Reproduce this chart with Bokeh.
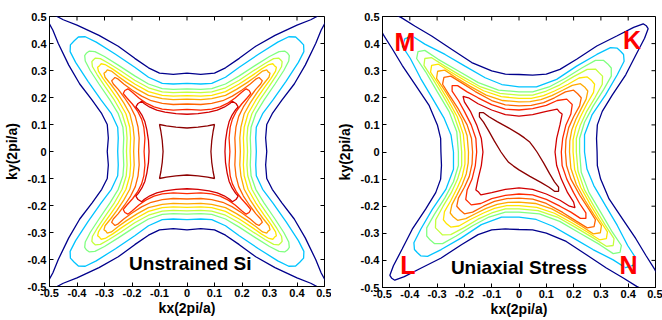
from bokeh.plotting import figure
from bokeh.layouts import row
from bokeh.models import FixedTicker, Label, Range1d
from bokeh.embed import file_html
from bokeh.resources import INLINE

# ---------------- data ----------------
ticks = [-0.5, -0.4, -0.3, -0.2, -0.1, 0.0, 0.1, 0.2, 0.3, 0.4, 0.5]
tick_labels = ["-0.5", "-0.4", "-0.3", "-0.2", "-0.1", "0", "0.1", "0.2", "0.3", "0.4", "0.5"]

level_colors = ["#00008c", "#00c4ff", "#80ff80", "#c4ff3c", "#ffe600",
                "#ffa800", "#ff6400", "#ff2a00", "#d20000", "#8c0000"]

# Unstrained Si: one octant per contour, from the ky axis to the kx=ky diagonal
uns_x0 = [0, 0.05, 0.10, 0.14, 0.19, 0.25, 0.32, 0.40, 0.45, 0.50, 0.53]
uns_y0 = [0.29, 0.286, 0.29, 0.31, 0.345, 0.39, 0.43, 0.468, 0.488, 0.515, 0.53]
uns_x1 = [0, 0.05, 0.09, 0.14, 0.19, 0.26, 0.33, 0.37, 0.395, 0.41]
uns_y1 = [0.252, 0.25, 0.252, 0.275, 0.312, 0.36, 0.405, 0.425, 0.424, 0.41]
uns_x2 = [0, 0.05, 0.09, 0.14, 0.19, 0.25, 0.30, 0.335, 0.355, 0.365]
uns_y2 = [0.232, 0.23, 0.233, 0.25, 0.28, 0.32, 0.352, 0.37, 0.372, 0.365]
uns_x3 = [0, 0.05, 0.09, 0.14, 0.19, 0.24, 0.285, 0.315, 0.333, 0.34]
uns_y3 = [0.22, 0.218, 0.221, 0.236, 0.264, 0.298, 0.327, 0.344, 0.346, 0.34]
uns_x4 = [0, 0.05, 0.09, 0.14, 0.19, 0.235, 0.27, 0.298, 0.312, 0.318]
uns_y4 = [0.207, 0.205, 0.208, 0.222, 0.25, 0.28, 0.305, 0.322, 0.325, 0.318]
uns_x5 = [0, 0.05, 0.09, 0.14, 0.18, 0.22, 0.25, 0.275, 0.29, 0.295]
uns_y5 = [0.194, 0.192, 0.196, 0.208, 0.23, 0.256, 0.278, 0.298, 0.302, 0.295]
uns_x6 = [0, 0.05, 0.09, 0.13, 0.165, 0.2, 0.23, 0.25, 0.262, 0.268]
uns_y6 = [0.176, 0.174, 0.178, 0.188, 0.205, 0.228, 0.25, 0.268, 0.274, 0.268]
uns_x7 = [0, 0.05, 0.09, 0.12, 0.15, 0.175, 0.2, 0.215, 0.226]
uns_y7 = [0.156, 0.153, 0.157, 0.165, 0.18, 0.198, 0.22, 0.232, 0.226]
uns_x8 = [0, 0.04, 0.08, 0.11, 0.135, 0.155, 0.165, 0.178]
uns_y8 = [0.138, 0.14, 0.146, 0.153, 0.164, 0.177, 0.186, 0.178]
uns_x9 = [0, 0.04, 0.075, 0.1]
uns_y9 = [0.087, 0.09, 0.095, 0.1]

# Uniaxial stress: one quarter per contour, from the K diagonal (kx=ky) to the M diagonal (kx=-ky)
str_x0 = [0.466, 0.455, 0.42, 0.358, 0.285, 0.211, 0.15, 0.10, 0.05, 0.0, -0.05, -0.10, -0.173, -0.247, -0.32, -0.382, -0.431, -0.48, -0.525]
str_y0 = [0.466, 0.473, 0.46, 0.428, 0.391, 0.342, 0.305, 0.287, 0.284, 0.286, 0.287, 0.299, 0.33, 0.379, 0.428, 0.465, 0.496, 0.52, 0.525]
str_x1 = [0.372, 0.36, 0.335, 0.285, 0.211, 0.138, 0.064, 0.0, -0.063, -0.124, -0.198, -0.271, -0.345, -0.39, -0.418]
str_y1 = [0.372, 0.383, 0.385, 0.36, 0.317, 0.268, 0.24, 0.24, 0.249, 0.274, 0.317, 0.36, 0.398, 0.427, 0.418]
str_x2 = [0.325, 0.31, 0.28, 0.23, 0.17, 0.11, 0.05, 0.0, -0.075, -0.149, -0.222, -0.296, -0.345, -0.37]
str_y2 = [0.325, 0.338, 0.338, 0.31, 0.272, 0.24, 0.222, 0.222, 0.228, 0.256, 0.299, 0.342, 0.375, 0.37]
str_x3 = [0.293, 0.28, 0.25, 0.20, 0.15, 0.10, 0.05, 0.0, -0.07, -0.14, -0.21, -0.27, -0.32, -0.345]
str_y3 = [0.293, 0.306, 0.305, 0.278, 0.248, 0.225, 0.21, 0.21, 0.216, 0.24, 0.28, 0.316, 0.348, 0.345]
str_x4 = [0.265, 0.25, 0.22, 0.18, 0.13, 0.09, 0.045, 0.0, -0.065, -0.13, -0.195, -0.25, -0.295, -0.32]
str_y4 = [0.265, 0.277, 0.273, 0.25, 0.225, 0.208, 0.198, 0.198, 0.204, 0.226, 0.262, 0.295, 0.324, 0.32]
str_x5 = [0.24, 0.225, 0.195, 0.16, 0.12, 0.08, 0.04, 0.0, -0.06, -0.12, -0.18, -0.23, -0.272, -0.298]
str_y5 = [0.24, 0.252, 0.246, 0.228, 0.208, 0.193, 0.186, 0.185, 0.19, 0.21, 0.243, 0.274, 0.302, 0.298]
str_x6 = [0.215, 0.2, 0.17, 0.13, 0.09, 0.045, 0.0, -0.05, -0.10, -0.16, -0.21, -0.25, -0.275]
str_y6 = [0.215, 0.228, 0.222, 0.2, 0.182, 0.172, 0.17, 0.174, 0.19, 0.223, 0.255, 0.28, 0.275]
str_x7 = [0.185, 0.175, 0.14, 0.10, 0.05, 0.0, -0.05, -0.10, -0.15, -0.19, -0.225, -0.245]
str_y7 = [0.185, 0.195, 0.19, 0.172, 0.16, 0.155, 0.158, 0.175, 0.2, 0.222, 0.245, 0.245]
str_x8 = [0.148, 0.14, 0.1, 0.05, 0.0, -0.05, -0.1, -0.15, -0.185, -0.205]
str_y8 = [0.148, 0.158, 0.15, 0.138, 0.132, 0.138, 0.155, 0.178, 0.2, 0.205]
str_x9 = [0.038, 0.02, 0.0, -0.04, -0.08, -0.11, -0.13, -0.145]
str_y9 = [0.038, 0.052, 0.066, 0.09, 0.112, 0.13, 0.145, 0.145]

uns_x = [uns_x0, uns_x1, uns_x2, uns_x3, uns_x4, uns_x5, uns_x6, uns_x7, uns_x8, uns_x9]
uns_y = [uns_y0, uns_y1, uns_y2, uns_y3, uns_y4, uns_y5, uns_y6, uns_y7, uns_y8, uns_y9]
str_x = [str_x0, str_x1, str_x2, str_x3, str_x4, str_x5, str_x6, str_x7, str_x8, str_x9]
str_y = [str_y0, str_y1, str_y2, str_y3, str_y4, str_y5, str_y6, str_y7, str_y8, str_y9]


# ------------- symmetry completion -------------
def d4_loop(xs, ys):
    oct_ = list(zip(xs, ys))
    q1 = oct_ + [(y, x) for (x, y) in reversed(oct_)][1:]
    q4 = [(x, -y) for (x, y) in reversed(q1)][1:]
    half = q1 + q4
    left = [(-x, y) for (x, y) in reversed(half)][1:]
    full = half + left
    return [p[0] for p in full], [p[1] for p in full]


def c2v_loop(xs, ys):
    a = list(zip(xs, ys))
    b = [(-y, -x) for (x, y) in reversed(a)][1:]
    ab = a + b
    c = [(-x, -y) for (x, y) in ab][1:]
    full = ab + c
    return [p[0] for p in full], [p[1] for p in full]


FONT = "Liberation Sans"


def make_fig(left_border, frame_w, frame_h, top_border, right_border, bottom_border):
    p = figure(output_backend="svg", toolbar_location=None,
               x_range=Range1d(-0.5, 0.5), y_range=Range1d(-0.5, 0.5),
               frame_width=frame_w, frame_height=frame_h,
               min_border_left=left_border, min_border_right=right_border,
               min_border_top=top_border, min_border_bottom=bottom_border)
    p.xgrid.visible = False
    p.ygrid.visible = False
    p.outline_line_color = "black"
    p.outline_line_width = 1
    p.background_fill_color = "white"
    p.border_fill_color = "white"
    overrides = dict(zip(ticks, tick_labels))
    for ax in (p.xaxis[0], p.yaxis[0]):
        ax.ticker = FixedTicker(ticks=ticks)
        ax.major_label_overrides = overrides
        ax.major_tick_in = 4
        ax.major_tick_out = 0
        ax.minor_tick_line_color = None
        ax.axis_line_color = "black"
        ax.major_tick_line_color = "black"
        ax.major_label_text_font = FONT
        ax.major_label_text_font_style = "bold"
        ax.major_label_text_font_size = "11px"
        ax.major_label_text_color = "black"
        ax.major_label_standoff = 2
        ax.axis_label_text_font = FONT
        ax.axis_label_text_font_style = "bold"
        ax.axis_label_text_font_size = "14px"
        ax.axis_label_text_color = "black"
    p.xaxis[0].axis_label = "kx(2pi/a)"
    p.yaxis[0].axis_label = "ky(2pi/a)"
    p.xaxis[0].axis_label_standoff = 0
    p.yaxis[0].axis_label_standoff = 5
    p.yaxis[0].major_label_standoff = 3
    # inward tick marks on the top and right sides of the box
    n = len(ticks)
    tlen_y = 4.0 / frame_h
    tlen_x = 4.0 / frame_w
    p.segment(x0=ticks, y0=[0.5] * n, x1=ticks, y1=[0.5 - tlen_y] * n, line_color="black", line_width=1)
    p.segment(x0=[0.5] * n, y0=ticks, x1=[0.5 - tlen_x] * n, y1=ticks, line_color="black", line_width=1)
    return p


p1 = make_fig(49, 275, 270, 15, 7, 33)
for i in range(10):
    lx, ly = d4_loop(uns_x[i], uns_y[i])
    p1.line(lx, ly, line_color=level_colors[i], line_width=1.3)
p1.add_layout(Label(x=0.012, y=-0.415, text="Unstrained Si", text_align="center",
                    text_baseline="middle", text_font=FONT, text_font_style="bold",
                    text_font_size="19px", text_color="black"))

p2 = make_fig(51, 273, 271, 16, 7, 31)
for i in range(10):
    lx, ly = c2v_loop(str_x[i], str_y[i])
    p2.line(lx, ly, line_color=level_colors[i], line_width=1.3)
p2.add_layout(Label(x=0.0, y=-0.428, text="Uniaxial Stress", text_align="center",
                    text_baseline="middle", text_font=FONT, text_font_style="bold",
                    text_font_size="19px", text_color="black"))
for txt, lx_, ly_ in (("M", -0.418, 0.406), ("K", 0.414, 0.414), ("L", -0.407, -0.416), ("N", 0.401, -0.416)):
    p2.add_layout(Label(x=lx_, y=ly_, text=txt, text_align="center", text_baseline="middle",
                        text_font=FONT, text_font_style="bold", text_font_size="25px",
                        text_color="#ff0000"))

layout = row(p1, p2, spacing=0)
open("out.html", "w").write(file_html(layout, INLINE))
